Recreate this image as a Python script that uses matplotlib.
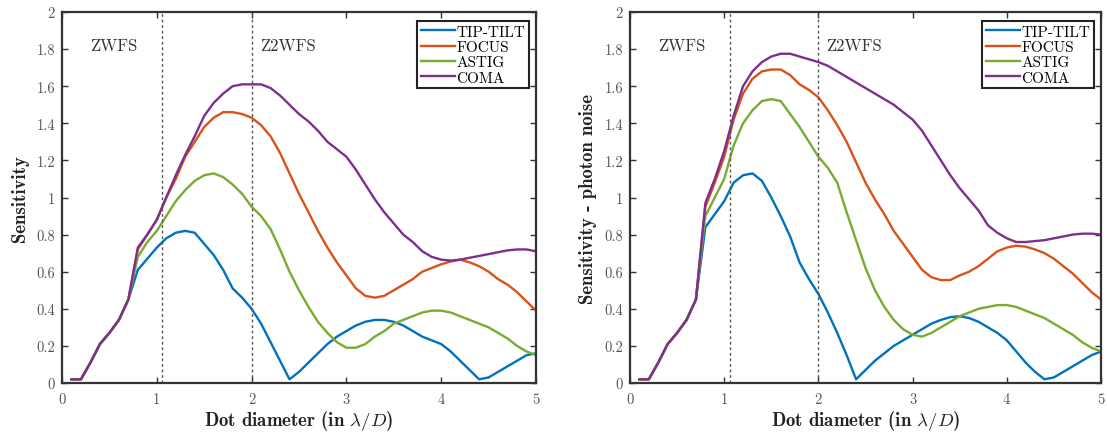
import numpy as np
import matplotlib
matplotlib.use("Agg")
import matplotlib.pyplot as plt

# ---------------- data ----------------
x = [0.1, 0.2, 0.3, 0.4, 0.5, 0.6, 0.7, 0.8, 0.9, 1.0,
     1.1, 1.2, 1.3, 1.4, 1.5, 1.6, 1.7, 1.8, 1.9, 2.0,
     2.1, 2.2, 2.3, 2.4, 2.5, 2.6, 2.7, 2.8, 2.9, 3.0,
     3.1, 3.2, 3.3, 3.4, 3.5, 3.6, 3.7, 3.8, 3.9, 4.0,
     4.1, 4.2, 4.3, 4.4, 4.5, 4.6, 4.7, 4.8, 4.9, 5.0]

start = [0.02, 0.02, 0.11, 0.21, 0.27, 0.34, 0.45]

# Left panel: Sensitivity
tt_left = start + [0.61, 0.67, 0.73, 0.78, 0.81, 0.82, 0.81, 0.75, 0.69, 0.61, 0.51,
                   0.46, 0.40, 0.32, 0.22, 0.12, 0.02, 0.06, 0.11, 0.16, 0.21,
                   0.25, 0.28, 0.31, 0.33, 0.34, 0.34, 0.33, 0.31, 0.28, 0.25,
                   0.23, 0.21, 0.17, 0.12, 0.07, 0.02, 0.03, 0.06, 0.09, 0.12,
                   0.15, 0.16]
focus_left = start + [0.72, 0.80, 0.88, 1.00, 1.10, 1.22, 1.30, 1.38, 1.43, 1.46, 1.46,
                      1.45, 1.43, 1.39, 1.33, 1.24, 1.13, 1.02, 0.92, 0.82, 0.73,
                      0.65, 0.58, 0.51, 0.47, 0.46, 0.47, 0.50, 0.53, 0.56, 0.60,
                      0.62, 0.64, 0.655, 0.665, 0.65, 0.63, 0.60, 0.56, 0.53, 0.49,
                      0.44, 0.39]
astig_left = start + [0.68, 0.76, 0.82, 0.90, 0.98, 1.04, 1.09, 1.12, 1.13, 1.11, 1.07,
                      1.02, 0.95, 0.90, 0.83, 0.72, 0.60, 0.50, 0.41, 0.33, 0.27,
                      0.22, 0.19, 0.19, 0.21, 0.25, 0.28, 0.32, 0.34, 0.36, 0.38,
                      0.39, 0.39, 0.38, 0.36, 0.34, 0.32, 0.30, 0.27, 0.24, 0.20,
                      0.17, 0.15]
coma_left = start + [0.73, 0.80, 0.88, 1.00, 1.12, 1.23, 1.33, 1.44, 1.51, 1.56, 1.60,
                     1.61, 1.61, 1.61, 1.59, 1.55, 1.50, 1.45, 1.41, 1.36, 1.30,
                     1.26, 1.22, 1.15, 1.07, 0.99, 0.92, 0.86, 0.80, 0.76, 0.71,
                     0.68, 0.665, 0.66, 0.665, 0.675, 0.685, 0.695, 0.705, 0.715, 0.72,
                     0.72, 0.71]

# Right panel: Sensitivity - photon noise
tt_right = start + [0.84, 0.91, 0.98, 1.08, 1.12, 1.13, 1.09, 1.00, 0.90, 0.79, 0.65,
                    0.56, 0.48, 0.38, 0.27, 0.15, 0.02, 0.07, 0.12, 0.16, 0.20,
                    0.23, 0.26, 0.29, 0.32, 0.34, 0.355, 0.36, 0.35, 0.33, 0.30,
                    0.27, 0.23, 0.17, 0.11, 0.06, 0.02, 0.03, 0.06, 0.09, 0.12,
                    0.15, 0.17]
focus_right = start + [0.95, 1.08, 1.22, 1.42, 1.56, 1.64, 1.68, 1.69, 1.69, 1.66, 1.61,
                       1.58, 1.54, 1.47, 1.39, 1.30, 1.19, 1.08, 0.99, 0.91, 0.82,
                       0.75, 0.68, 0.61, 0.57, 0.555, 0.555, 0.58, 0.60, 0.63, 0.67,
                       0.71, 0.73, 0.74, 0.735, 0.72, 0.70, 0.67, 0.63, 0.59, 0.54,
                       0.49, 0.45]
astig_right = start + [0.90, 1.00, 1.10, 1.28, 1.40, 1.47, 1.52, 1.53, 1.52, 1.45, 1.38,
                       1.30, 1.22, 1.16, 1.08, 0.92, 0.77, 0.62, 0.50, 0.41, 0.34,
                       0.29, 0.26, 0.25, 0.27, 0.30, 0.33, 0.36, 0.38, 0.40, 0.41,
                       0.42, 0.42, 0.41, 0.39, 0.37, 0.35, 0.32, 0.29, 0.26, 0.22,
                       0.19, 0.17]
coma_right = start + [0.97, 1.10, 1.25, 1.44, 1.60, 1.68, 1.73, 1.76, 1.775, 1.775, 1.76,
                      1.745, 1.73, 1.71, 1.68, 1.65, 1.62, 1.59, 1.56, 1.53, 1.50,
                      1.46, 1.42, 1.36, 1.28, 1.20, 1.12, 1.05, 0.99, 0.93, 0.85,
                      0.81, 0.78, 0.76, 0.76, 0.765, 0.77, 0.78, 0.79, 0.80, 0.805,
                      0.805, 0.80]

labels = ["TIP-TILT", "FOCUS", "ASTIG", "COMA"]
colors = ["#0072BD", "#D95319", "#77AC30", "#7E2F8E"]
vlines = [1.06, 2.0]
region_labels = ["ZWFS", "Z2WFS"]
region_x = [0.55, 2.38]
region_y = 1.82
xticks = [0, 1, 2, 3, 4, 5]
yticks = [0, 0.2, 0.4, 0.6, 0.8, 1.0, 1.2, 1.4, 1.6, 1.8, 2.0]
yticklabels = ["0", "0.2", "0.4", "0.6", "0.8", "1", "1.2", "1.4", "1.6", "1.8", "2"]
ylabels = ["Sensitivity", "Sensitivity - photon noise"]
xlabel = r"Dot diameter (in $\lambda/D$)"

panels = [[tt_left, focus_left, astig_left, coma_left],
          [tt_right, focus_right, astig_right, coma_right]]

# ---------------- plot ----------------
plt.rcParams["mathtext.fontset"] = "cm"
plt.rcParams["axes.formatter.use_mathtext"] = True

W, H = 1107, 439
fig = plt.figure(figsize=(W / 100, H / 100), dpi=100)
boxes = [(62, 536), (630, 1101)]
top_px, bot_px = 13, 384

for i, (series, (l, r)) in enumerate(zip(panels, boxes)):
    ax = fig.add_axes([l / W, (H - bot_px) / H, (r - l) / W, (bot_px - top_px) / H])
    for ys, lab, c in zip(series, labels, colors):
        ax.plot(x, ys, color=c, lw=1.7, label=lab)
    for v in vlines:
        ax.axvline(v, color="#555555", lw=1.0, ls=(0, (2, 2)))
    for t, tx in zip(region_labels, region_x):
        ax.text(tx, region_y, t, ha="center", va="center", fontsize=12,
                family="cmr10", color="#333333")
    ax.set_xlim(0, 5)
    ax.set_ylim(0, 2)
    ax.set_xticks(xticks)
    ax.set_xticklabels([str(t) for t in xticks], family="cmr10", fontsize=10.5, color="#555555")
    ax.set_yticks(yticks)
    ax.set_yticklabels(yticklabels, family="cmr10", fontsize=10.5, color="#555555")
    ax.tick_params(direction="in", top=True, right=True, length=4, width=1.0,
                   color="#333333")
    ax.tick_params(axis="x", pad=7)
    ax.tick_params(axis="y", pad=5)
    for s in ax.spines.values():
        s.set_linewidth(1.6)
        s.set_color("#333333")
    ax.set_xlabel(xlabel, family="cmb10", fontsize=13.5, labelpad=1, color="#222222")
    ax.set_ylabel(ylabels[i], family="cmb10", fontsize=13.5, labelpad=5, color="#222222")
    leg = ax.legend(loc="upper right", prop={"family": "cmr10", "size": 11},
                    handlelength=2.2, handletextpad=0.1, borderpad=0.25,
                    labelspacing=0.1, fancybox=False, framealpha=1,
                    edgecolor="#222222", bbox_to_anchor=(0.985, 0.975), borderaxespad=0)
    leg.get_frame().set_linewidth(1.5)

fig.savefig("out.png", dpi=100)
